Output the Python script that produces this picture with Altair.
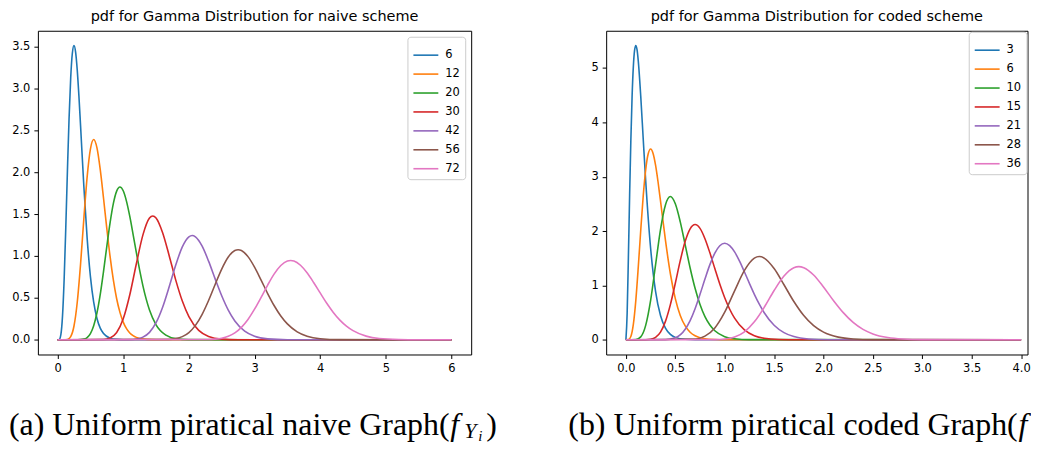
import altair as alt
import pandas as pd

COLORS = ["#1f77b4", "#ff7f0e", "#2ca02c", "#d62728", "#9467bd", "#8c564b", "#e377c2"]

# ---------------- naive scheme ----------------
NAIVE_LABELS = ["6", "12", "20", "30", "42", "56", "72"]

N6_X = [0, 0.025, 0.05, 0.075, 0.1, 0.125, 0.15, 0.175, 0.2, 0.225, 0.25, 0.275, 0.3, 0.325, 0.35, 0.4, 0.45, 0.5, 0.55, 0.6, 0.65, 0.7, 0.8, 0.9, 1.0, 6.0]
N6_Y = [0, 0.003, 0.061, 0.282, 0.722, 1.336, 2.016, 2.643, 3.126, 3.417, 3.509, 3.428, 3.213, 2.907, 2.554, 1.832, 1.215, 0.757, 0.448, 0.255, 0.140, 0.075, 0.020, 0.005, 0.001, 0]

N12_X = [0, 0.1, 0.15, 0.2, 0.25, 0.3, 0.35, 0.4, 0.45, 0.5, 0.55, 0.6, 0.65, 0.7, 0.75, 0.8, 0.85, 0.9, 0.95, 1.0, 1.05, 1.1, 1.15, 1.2, 1.35, 1.5, 6.0]
N12_Y = [0, 0.0001, 0.004, 0.039, 0.165, 0.451, 0.903, 1.444, 1.940, 2.274, 2.388, 2.288, 2.029, 1.688, 1.326, 0.991, 0.711, 0.490, 0.327, 0.211, 0.133, 0.082, 0.049, 0.029, 0.005, 0.001, 0]

N20_X = [0, 0.3, 0.4, 0.45, 0.5, 0.55, 0.6, 0.65, 0.7, 0.75, 0.8, 0.85, 0.9, 0.95, 1.0, 1.05, 1.1, 1.15, 1.2, 1.25, 1.3, 1.35, 1.4, 1.5, 1.65, 1.8, 2.0, 6.0]
N20_Y = [0, 0.0002, 0.008, 0.027, 0.075, 0.168, 0.323, 0.543, 0.817, 1.115, 1.398, 1.627, 1.773, 1.822, 1.777, 1.651, 1.471, 1.258, 1.039, 0.831, 0.644, 0.485, 0.356, 0.179, 0.055, 0.014, 0.002, 0]

N30_X = [0, 0.7, 0.8, 0.9, 1.0, 1.1, 1.2, 1.3, 1.4, 1.45, 1.5, 1.6, 1.7, 1.8, 1.9, 2.0, 2.15, 2.3, 2.5, 2.75, 6.0]
N30_Y = [0, 0.003, 0.021, 0.087, 0.250, 0.537, 0.907, 1.251, 1.452, 1.477, 1.453, 1.277, 1.003, 0.712, 0.462, 0.277, 0.112, 0.040, 0.008, 0.001, 0]

N42_X = [0, 1.1, 1.2, 1.3, 1.4, 1.5, 1.6, 1.7, 1.8, 1.9, 2.0, 2.05, 2.1, 2.2, 2.3, 2.4, 2.5, 2.6, 2.7, 2.85, 3.0, 3.2, 3.5, 6.0]
N42_Y = [0, 0.002, 0.009, 0.032, 0.089, 0.204, 0.389, 0.633, 0.892, 1.108, 1.228, 1.244, 1.228, 1.120, 0.938, 0.727, 0.525, 0.354, 0.225, 0.103, 0.042, 0.011, 0.001, 0]

N56_X = [0, 1.7, 1.8, 1.9, 2.0, 2.1, 2.2, 2.3, 2.4, 2.5, 2.6, 2.7, 2.75, 2.8, 2.9, 3.0, 3.1, 3.2, 3.3, 3.4, 3.5, 3.65, 3.8, 4.0, 4.3, 6.0]
N56_Y = [0, 0.005, 0.014, 0.038, 0.087, 0.172, 0.301, 0.469, 0.660, 0.843, 0.987, 1.065, 1.074, 1.065, 0.992, 0.867, 0.712, 0.552, 0.406, 0.284, 0.190, 0.095, 0.043, 0.013, 0.002, 0]

N72_X = [0, 2.3, 2.4, 2.5, 2.6, 2.7, 2.8, 2.9, 3.0, 3.1, 3.2, 3.3, 3.4, 3.5, 3.55, 3.6, 3.7, 3.8, 3.9, 4.0, 4.1, 4.2, 4.3, 4.4, 4.5, 4.7, 4.9, 5.2, 5.5, 6.0]
N72_Y = [0, 0.003, 0.008, 0.019, 0.042, 0.083, 0.149, 0.243, 0.365, 0.506, 0.653, 0.786, 0.886, 0.940, 0.946, 0.940, 0.889, 0.799, 0.684, 0.559, 0.436, 0.327, 0.235, 0.163, 0.109, 0.044, 0.015, 0.003, 0.0003, 0]

# ---------------- coded scheme ----------------
CODED_LABELS = ["3", "6", "10", "15", "21", "28", "36"]

C3_X = [0, 0.0125, 0.025, 0.0375, 0.05, 0.0625, 0.075, 0.0875, 0.1, 0.1125, 0.125, 0.15, 0.175, 0.2, 0.25, 0.3, 0.35, 0.4, 0.45, 0.5, 0.6, 0.7, 4.0]
C3_Y = [0, 0.487, 1.516, 2.657, 3.679, 4.477, 5.020, 5.322, 5.413, 5.336, 5.130, 4.481, 3.699, 2.930, 1.684, 0.892, 0.447, 0.215, 0.100, 0.045, 0.009, 0.002, 0]

C6_X = [0, 0.025, 0.05, 0.075, 0.1, 0.125, 0.15, 0.175, 0.2, 0.225, 0.25, 0.275, 0.3, 0.325, 0.35, 0.4, 0.45, 0.5, 0.55, 0.6, 0.65, 0.7, 0.8, 0.9, 1.0, 4.0]
C6_Y = [0, 0.003, 0.061, 0.282, 0.722, 1.336, 2.016, 2.643, 3.126, 3.417, 3.509, 3.428, 3.213, 2.907, 2.554, 1.832, 1.215, 0.757, 0.448, 0.255, 0.140, 0.075, 0.020, 0.005, 0.001, 0]

C10_X = [0, 0.1, 0.15, 0.2, 0.25, 0.3, 0.35, 0.4, 0.45, 0.5, 0.55, 0.6, 0.65, 0.7, 0.75, 0.8, 0.85, 0.9, 1.0, 1.1, 1.25, 4.0]
C10_Y = [0, 0.004, 0.054, 0.265, 0.725, 1.377, 2.027, 2.481, 2.635, 2.502, 2.170, 1.747, 1.321, 0.947, 0.648, 0.426, 0.271, 0.166, 0.058, 0.019, 0.003, 0]

C15_X = [0, 0.2, 0.25, 0.3, 0.35, 0.4, 0.45, 0.5, 0.55, 0.6, 0.65, 0.7, 0.75, 0.8, 0.85, 0.9, 0.95, 1.0, 1.1, 1.2, 1.3, 1.4, 1.55, 1.75, 4.0]
C15_Y = [0, 0.001, 0.009, 0.045, 0.142, 0.339, 0.648, 1.041, 1.456, 1.811, 2.042, 2.120, 2.050, 1.860, 1.599, 1.310, 1.027, 0.775, 0.398, 0.182, 0.076, 0.029, 0.006, 0.001, 0]

C21_X = [0, 0.4, 0.5, 0.6, 0.65, 0.7, 0.75, 0.8, 0.85, 0.9, 0.95, 1.0, 1.05, 1.1, 1.15, 1.2, 1.25, 1.3, 1.35, 1.4, 1.5, 1.6, 1.7, 1.85, 2.05, 4.0]
C21_Y = [0, 0.003, 0.037, 0.194, 0.353, 0.572, 0.836, 1.118, 1.383, 1.595, 1.731, 1.777, 1.733, 1.617, 1.447, 1.247, 1.038, 0.837, 0.655, 0.498, 0.268, 0.132, 0.060, 0.016, 0.002, 0]

C28_X = [0, 0.7, 0.8, 0.9, 1.0, 1.1, 1.2, 1.3, 1.35, 1.4, 1.5, 1.6, 1.7, 1.8, 1.9, 2.0, 2.15, 2.3, 2.5, 4.0]
C28_Y = [0, 0.014, 0.067, 0.218, 0.508, 0.901, 1.277, 1.502, 1.531, 1.502, 1.310, 1.013, 0.704, 0.446, 0.260, 0.141, 0.049, 0.015, 0.003, 0]

C36_X = [0, 0.9, 1.0, 1.1, 1.2, 1.3, 1.4, 1.5, 1.6, 1.7, 1.75, 1.8, 1.9, 2.0, 2.1, 2.2, 2.3, 2.4, 2.5, 2.65, 2.8, 3.0, 4.0]
C36_Y = [0, 0.003, 0.014, 0.052, 0.148, 0.331, 0.598, 0.907, 1.174, 1.327, 1.346, 1.327, 1.192, 0.971, 0.724, 0.500, 0.320, 0.192, 0.109, 0.042, 0.014, 0.003, 0]

NAIVE_TICKS_X = [0, 1, 2, 3, 4, 5, 6]
NAIVE_TICKS_Y = [0.0, 0.5, 1.0, 1.5, 2.0, 2.5, 3.0, 3.5]
CODED_TICKS_X = [0.0, 0.5, 1.0, 1.5, 2.0, 2.5, 3.0, 3.5, 4.0]
CODED_TICKS_Y = [0, 1, 2, 3, 4, 5]

TITLE_A = "pdf for Gamma Distribution for naive scheme"
TITLE_B = "pdf for Gamma Distribution for coded scheme"
CAPTION_A = "(a) Uniform piratical naive Graph("
CAPTION_B = "(b) Uniform piratical coded Graph("
CAP_F, CAP_Y, CAP_I, CAP_CLOSE = "f", "Y", "i", ")"

FONT = "DejaVu Sans"
SERIF = "Liberation Serif"


def make_df(labels, xs, ys):
    rows = []
    for lab, xv, yv in zip(labels, xs, ys):
        for a, b in zip(xv, yv):
            rows.append({"series": lab, "x": a, "y": b})
    return pd.DataFrame(rows)


naive_df = make_df(NAIVE_LABELS, [N6_X, N12_X, N20_X, N30_X, N42_X, N56_X, N72_X],
                   [N6_Y, N12_Y, N20_Y, N30_Y, N42_Y, N56_Y, N72_Y])
coded_df = make_df(CODED_LABELS, [C3_X, C6_X, C10_X, C15_X, C21_X, C28_X, C36_X],
                   [C3_Y, C6_Y, C10_Y, C15_Y, C21_Y, C28_Y, C36_Y])


def axis(values, fmt):
    return alt.Axis(values=values, format=fmt, title=None, grid=False, domain=False,
                    ticks=True, tickSize=4, tickColor="black", tickWidth=1,
                    labelFont=FONT, labelFontSize=11.5, labelColor="black",
                    labelPadding=4, labelFlush=False)


def text_layer(txt, x, y, size, style):
    return alt.Chart(pd.DataFrame({"t": [txt]})).mark_text(
        font=SERIF, fontSize=size, fontStyle=style, align="left", baseline="alphabetic",
        color="black").encode(x=alt.value(x), y=alt.value(y), text="t:N")


def panel(df, labels, title, xdom, xticks, xfmt, ydom, yticks, yfmt, caption, cap_x, f_dx,
          full_caption, legend_offset, width, height):
    lines = alt.Chart(df).mark_line(strokeWidth=1.6, interpolate="monotone", clip=True).encode(
        x=alt.X("x:Q", scale=alt.Scale(domain=xdom, nice=False, zero=False), axis=axis(xticks, xfmt)),
        y=alt.Y("y:Q", scale=alt.Scale(domain=ydom, nice=False, zero=False), axis=axis(yticks, yfmt)),
        color=alt.Color("series:N", sort=labels,
                        scale=alt.Scale(domain=labels, range=COLORS),
                        legend=alt.Legend(title=None, orient="top-right", offset=legend_offset,
                                          padding=5, strokeColor="#cccccc", fillColor="white",
                                          cornerRadius=3, symbolType="stroke", symbolStrokeWidth=1.6,
                                          symbolSize=625, rowPadding=-6.5, labelFont=FONT,
                                          labelFontSize=11.5, labelColor="black", labelOffset=6)),
    )
    base_y = 405.5
    layers = [
        lines,
        text_layer(caption, cap_x, base_y, 32, "normal"),
        text_layer(CAP_F, cap_x + f_dx, base_y, 32, "italic"),
    ]
    if full_caption:
        layers += [
            text_layer(CAP_Y, cap_x + f_dx + 14, base_y + 3, 22, "italic"),
            text_layer(CAP_I, cap_x + f_dx + 28, base_y + 6, 15, "italic"),
            text_layer(CAP_CLOSE, cap_x + f_dx + 36, base_y, 32, "normal"),
        ]
    return alt.layer(*layers).properties(
        width=width, height=height,
        title=alt.TitleParams(text=title, font=FONT, fontSize=14.5, fontWeight="normal",
                              color="black", anchor="middle", offset=6),
    )


left = panel(naive_df, NAIVE_LABELS, TITLE_A, [-0.3, 6.3], NAIVE_TICKS_X, "d",
             [-0.175, 3.685], NAIVE_TICKS_Y, ".1f", CAPTION_A, -29, 443, True, 6, 435, 325)
right = panel(coded_df, CODED_LABELS, TITLE_B, [-0.2, 4.065], CODED_TICKS_X, ".1f",
              [-0.27, 5.684], CODED_TICKS_Y, "d", CAPTION_B, -38, 452, False, 1, 423, 325)

chart = alt.hconcat(left, right, spacing=135.5, bounds="flush").resolve_scale(
    color="independent").properties(
    padding={"left": 0, "top": 0, "right": 0, "bottom": -2}).configure_view(
    stroke="black", strokeWidth=1)

chart.save("out.html", embed_options={"renderer": "svg", "actions": False})
